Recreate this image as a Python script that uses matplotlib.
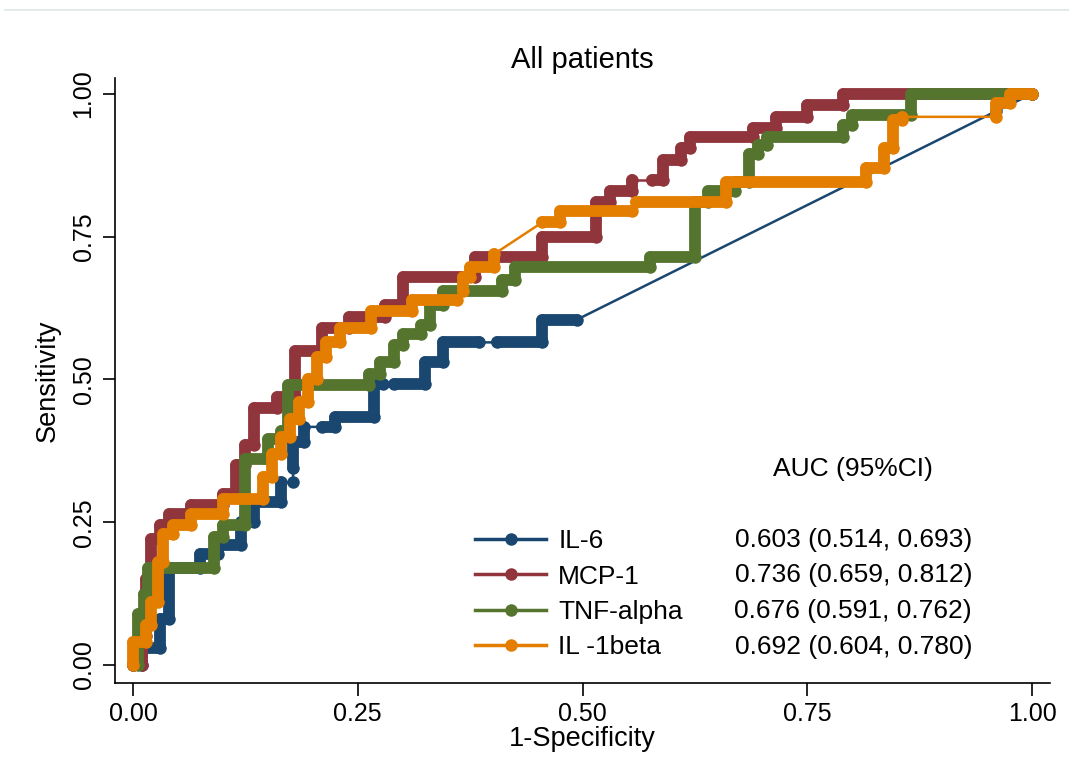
import matplotlib
matplotlib.use("Agg")
import matplotlib.pyplot as plt
from matplotlib.lines import Line2D

plt.rcParams["font.family"] = ["Liberation Sans", "DejaVu Sans"]

# ROC vertices (1-specificity, sensitivity); each inner list is a densely
# marked run, consecutive runs are joined by a plain thin line (ties).
il6_runs = [
    [(0, 0), (0.01, 0), (0.01, 0.03), (0.03, 0.03), (0.03, 0.08), (0.04, 0.08),
     (0.04, 0.17), (0.075, 0.17), (0.075, 0.195), (0.095, 0.195), (0.095, 0.21),
     (0.12, 0.21), (0.12, 0.25), (0.135, 0.25), (0.135, 0.285), (0.165, 0.285),
     (0.165, 0.32)],
    [(0.178, 0.32)],
    [(0.178, 0.345), (0.178, 0.39), (0.19, 0.39), (0.19, 0.417)],
    [(0.21, 0.417), (0.225, 0.417), (0.225, 0.435), (0.268, 0.435), (0.268, 0.492),
     (0.278, 0.492)],
    [(0.29, 0.492), (0.325, 0.492), (0.325, 0.53), (0.345, 0.53), (0.345, 0.565),
     (0.385, 0.565)],
    [(0.405, 0.565), (0.455, 0.565), (0.455, 0.605), (0.494, 0.605)],
    [(0.96, 0.97)],
    [(1.0, 1.0)],
]

mcp1_runs = [
    [(0, 0), (0.01, 0), (0.01, 0.05), (0.015, 0.05), (0.015, 0.15), (0.02, 0.15),
     (0.02, 0.22), (0.03, 0.22), (0.03, 0.245), (0.04, 0.245), (0.04, 0.265),
     (0.065, 0.265), (0.065, 0.28), (0.10, 0.28), (0.10, 0.30), (0.115, 0.30),
     (0.115, 0.35), (0.125, 0.35), (0.125, 0.385), (0.135, 0.385), (0.135, 0.45),
     (0.16, 0.45), (0.16, 0.47), (0.18, 0.47), (0.18, 0.55), (0.21, 0.55),
     (0.21, 0.59), (0.24, 0.59), (0.24, 0.61), (0.28, 0.61), (0.28, 0.63),
     (0.30, 0.63), (0.30, 0.68), (0.38, 0.68), (0.38, 0.715), (0.455, 0.715),
     (0.455, 0.75), (0.515, 0.75), (0.515, 0.81), (0.53, 0.81), (0.53, 0.83),
     (0.555, 0.83), (0.555, 0.85)],
    [(0.577, 0.85), (0.59, 0.85), (0.59, 0.885), (0.61, 0.885), (0.61, 0.905),
     (0.62, 0.905), (0.62, 0.925), (0.69, 0.925), (0.69, 0.94), (0.715, 0.94),
     (0.715, 0.96), (0.75, 0.96), (0.75, 0.98), (0.79, 0.98), (0.79, 1.0),
     (1.0, 1.0)],
]

tnf_runs = [
    [(0, 0), (0.005, 0), (0.005, 0.09), (0.012, 0.09), (0.012, 0.125),
     (0.017, 0.125), (0.017, 0.17), (0.09, 0.17), (0.09, 0.225), (0.10, 0.225),
     (0.10, 0.245), (0.125, 0.245), (0.125, 0.36), (0.15, 0.36), (0.15, 0.395),
     (0.165, 0.395), (0.165, 0.41), (0.172, 0.41), (0.172, 0.49), (0.263, 0.49),
     (0.263, 0.51), (0.275, 0.51), (0.275, 0.53), (0.29, 0.53), (0.29, 0.56),
     (0.30, 0.56), (0.30, 0.58), (0.32, 0.58), (0.32, 0.595), (0.33, 0.595),
     (0.33, 0.63), (0.345, 0.63), (0.345, 0.655), (0.41, 0.655), (0.41, 0.675),
     (0.425, 0.675), (0.425, 0.697), (0.575, 0.697), (0.575, 0.715),
     (0.625, 0.715), (0.625, 0.81), (0.64, 0.81), (0.64, 0.83), (0.67, 0.83),
     (0.67, 0.845), (0.685, 0.845), (0.685, 0.895), (0.695, 0.895), (0.695, 0.91),
     (0.705, 0.91), (0.705, 0.925), (0.79, 0.925), (0.79, 0.945), (0.80, 0.945),
     (0.80, 0.963), (0.865, 0.963), (0.865, 1.0), (1.0, 1.0)],
]

il1b_runs = [
    [(0, 0), (0, 0.04), (0.015, 0.04), (0.015, 0.07), (0.02, 0.07), (0.02, 0.11),
     (0.028, 0.11), (0.028, 0.18), (0.033, 0.18), (0.033, 0.23), (0.045, 0.23),
     (0.045, 0.245), (0.065, 0.245), (0.065, 0.265), (0.10, 0.265), (0.10, 0.29),
     (0.145, 0.29), (0.145, 0.33), (0.155, 0.33), (0.155, 0.37), (0.165, 0.37),
     (0.165, 0.40), (0.175, 0.40), (0.175, 0.43), (0.185, 0.43), (0.185, 0.46),
     (0.195, 0.46), (0.195, 0.50), (0.205, 0.50), (0.205, 0.54), (0.215, 0.54),
     (0.215, 0.565), (0.23, 0.565), (0.23, 0.59), (0.265, 0.59), (0.265, 0.62),
     (0.31, 0.62), (0.31, 0.64), (0.36, 0.64)],
    [(0.367, 0.655), (0.367, 0.68), (0.375, 0.68), (0.375, 0.697), (0.402, 0.697),
     (0.402, 0.72)],
    [(0.455, 0.775), (0.475, 0.775), (0.475, 0.795), (0.555, 0.795)],
    [(0.56, 0.81), (0.66, 0.81), (0.66, 0.845), (0.815, 0.845), (0.815, 0.87),
     (0.835, 0.87), (0.835, 0.905), (0.845, 0.905), (0.845, 0.955), (0.855, 0.955),
     (0.855, 0.96)],
    [(0.96, 0.96), (0.96, 0.985), (0.975, 0.985), (0.975, 1.0), (1.0, 1.0)],
]

markers = ["IL-6", "MCP-1", "TNF-alpha", "IL -1beta"]
auc_text = ["0.603 (0.514, 0.693)", "0.736 (0.659, 0.812)",
            "0.676 (0.591, 0.762)", "0.692 (0.604, 0.780)"]
colors = ["#1a476f", "#90353b", "#55752f", "#e37e00"]
all_runs = [il6_runs, mcp1_runs, tnf_runs, il1b_runs]
ticks = [0, 0.25, 0.5, 0.75, 1.0]

fig = plt.figure(figsize=(10.69, 7.8), dpi=100)
ax = fig.add_axes([0.1076, 0.1244, 0.8747, 0.7756])

for k, (runs, col) in enumerate(zip(all_runs, colors)):
    xs = [p[0] for run in runs for p in run]
    ys = [p[1] for run in runs for p in run]
    ax.plot(xs, ys, color=col, lw=1.8, zorder=2 + k)
    for run in runs:
        rx = [p[0] for p in run]
        ry = [p[1] for p in run]
        ax.plot(rx, ry, color=col, lw=8.5, solid_capstyle="round",
                solid_joinstyle="round", marker="o", ms=9, mew=0, zorder=2 + k)

ax.set_xlim(-0.02, 1.02)
ax.set_ylim(-0.0315, 1.028)
ax.set_xticks(ticks)
ax.set_yticks(ticks)
ax.set_xticklabels([f"{t:.2f}" for t in ticks])
ax.set_yticklabels([f"{t:.2f}" for t in ticks], rotation=90, va="center")
ax.tick_params(labelsize=18, length=9, width=1.2, direction="out", pad=5)
for side in ("top", "right"):
    ax.spines[side].set_visible(False)
for side in ("left", "bottom"):
    ax.spines[side].set_linewidth(1.2)

ax.set_title("All patients", fontsize=21, pad=7)
ax.set_xlabel("1-Specificity", fontsize=19.5, labelpad=0)
ax.set_ylabel("Sensitivity", fontsize=19.5, labelpad=8)

handles = [Line2D([], [], color=c, lw=2.5, marker="o", ms=9, mew=0) for c in colors]
ax.legend(handles, markers, loc="upper left", bbox_to_anchor=(0.385, 0.254),
          frameon=False, fontsize=19, borderpad=0, borderaxespad=0,
          handlelength=2.7, handletextpad=0.45, labelspacing=0.43)

ax.text(0.789, 0.353, "AUC (95%CI)", transform=ax.transAxes, fontsize=19,
        ha="center", va="center")
for i, s in enumerate(auc_text):
    ax.text(0.9166, 0.237 - i * 0.0592, s, transform=ax.transAxes, fontsize=19,
            ha="right", va="center")

fig.add_artist(Line2D([0.005, 1.0], [0.987, 0.987], transform=fig.transFigure,
                      color="#dde8e4", lw=1.2))

fig.savefig("out.png", dpi=100, facecolor="white")
